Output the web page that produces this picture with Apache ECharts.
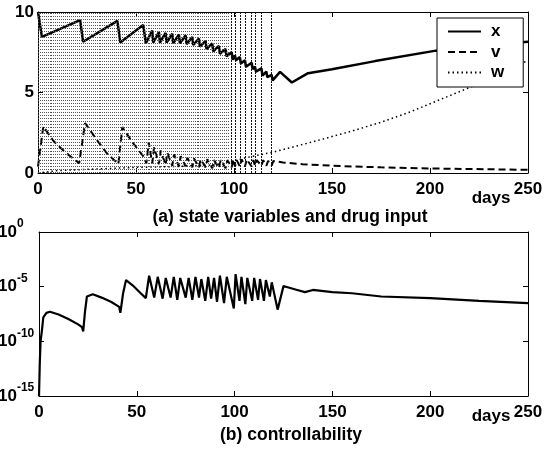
<!DOCTYPE html>
<html><head><meta charset="utf-8">
<script src="https://cdn.jsdelivr.net/npm/echarts@6/dist/echarts.min.js"></script>
<style>html,body{margin:0;padding:0;background:#fff}#c{width:552px;height:450px}</style>
</head><body><div id="c"></div>
<script>
// ---- data ----
const xTicks = [0, 50, 100, 150, 200, 250];
const stateTicks = [0, 5, 10];
const ctrlTickExps = [0, -5, -10, -15];

const xDays = [0,2,21.5,23,40.5,42,53.7,55,58.3,58.8,61.7,62.2,65.1,65.6,68.5,69,71.9,72.4,75.3,75.8,78.7,79.2,82.1,82.6,85.5,86,88.9,89.4,92.3,92.8,95.7,96.2,98.8,99.3,100.5,101,103,103.5,105.6,106.1,109,109.5,110.7,111.2,114,114.5,116.5,117,119.2,119.7,123.5,129.5,137.8,150,172,203,225,250];
const xVals = [10,8.45,9.5,8.15,9.45,8.1,9.2,8.05,8.85,8.1,8.75,8.1,8.7,8.1,8.65,8.05,8.6,8.05,8.55,8.0,8.45,7.95,8.35,7.85,8.2,7.7,8.05,7.55,7.9,7.4,7.7,7.25,7.5,7.05,7.3,7.0,7.2,6.8,7.0,6.6,6.85,6.45,6.6,6.3,6.5,6.05,6.3,5.95,6.1,5.75,6.28,5.62,6.2,6.45,6.95,7.6,7.9,8.15];

const vDays = [0,2.7,7.8,13.8,21,22,24,30,35,41,43,48.5,54,55.3,56.5,58.3,59.2,61.7,62.6,65.1,66,68.5,69.4,71.9,72.8,75.3,76.2,78.7,79.6,82.1,83,85.5,86.4,88.9,89.8,92.3,93.2,95.7,96.6,98.8,99.7,100.5,101.4,103,103.9,105.6,106.5,109,109.9,110.7,111.6,114,114.9,116.5,117.4,119.2,120.1,125,135,150,175,200,250];
const vVals = [0.4,2.9,2.0,1.3,0.6,0.7,3.1,2.05,1.25,0.55,2.85,1.85,1.0,0.6,1.9,0.6,1.6,0.55,1.4,0.5,1.25,0.45,1.15,0.4,1.05,0.4,0.95,0.35,0.9,0.35,0.85,0.35,0.85,0.3,0.8,0.3,0.8,0.3,0.8,0.35,0.85,0.4,0.8,0.4,0.85,0.4,0.85,0.4,0.8,0.45,0.8,0.45,0.8,0.45,0.75,0.45,0.75,0.65,0.55,0.45,0.35,0.28,0.2];

const wDays = [0,10,30,50,70,90,100,106,112,120,140,160,175,190,204,220,235,250];
const wVals = [0,0.15,0.25,0.35,0.4,0.5,0.75,0.95,1.1,1.3,1.93,2.6,3.15,3.8,4.5,5.3,6.1,7.0];
// drug pulses (vertical dotted lines)
const wPulseDays = [0,1,2,3,4,5,6,7,8,9,10,11,12,13,14,15,16,17,18,19,20,21,22,23,24,25,26,27,28,29,30,31,32,33,34,35,36,37,38,39,40,41,42,43,44,45,46,47,48,49,50,51,52,53,54,55,56,57,58,59,60,61,62,63,64,65,66,67,68,69,70,71,72,73,74,75,76,77,78,79,80,81,82,83,84,85,86,87,88,89,90,91,92,93,94,95,96,97];
const wPulseMain = [98.8,100.5,103,105.6,109,110.7,114,119.2];

const ctrlDays = [0,0.4,0.8,1.5,2.2,3.8,5.6,10,15,20,22,22.6,23.5,24.5,27.5,32,37,41,41.6,43,44.5,48,52,54.6,56.3,58.9,60.7,63.2,64.8,67.3,68.9,70.7,72.2,75,76.5,78.4,80,81.8,83,85,86.5,88,89.5,91,92.5,94.6,96,99.6,100.5,102.5,103.5,105.5,106.5,109,110,112,113,115,116,118,119,122,125,128,132,136,140,150,160,175,200,225,250];
const ctrlExp = [-15,-12,-10,-9,-7.8,-7.4,-7.3,-7.55,-7.95,-8.45,-8.7,-9.1,-7.3,-5.9,-5.7,-6.0,-6.4,-6.85,-7.4,-5.6,-4.4,-4.9,-5.6,-6.05,-4.0,-6.0,-4.1,-6.1,-4.2,-6.0,-4.1,-6.2,-4.2,-6.0,-4.2,-6.2,-4.1,-6.0,-4.3,-6.3,-4.1,-6.1,-4.2,-6.4,-4.0,-6.5,-4.1,-7.0,-3.85,-6.3,-4.1,-6.6,-4.2,-6.3,-4.2,-6.2,-4.3,-6.3,-4.4,-5.9,-4.6,-7.1,-4.95,-5.1,-5.3,-5.5,-5.3,-5.5,-5.6,-5.9,-6.05,-6.3,-6.5];

// ---- chart ----
const FONT = '"Liberation Sans", Arial, Helvetica, sans-serif';
const pairs = (d, v) => d.map((t, i) => [t, v[i]]);

function xAx(grid, pos, showLabel) {
  return {
    type: 'value', gridIndex: grid, position: pos,
    min: xTicks[0], max: xTicks[xTicks.length - 1], interval: xTicks[1] - xTicks[0],
    axisLine: { show: true, onZero: false, lineStyle: { color: '#000', width: 1 } },
    axisTick: { show: true, inside: true, length: 5, lineStyle: { color: '#000' } },
    axisLabel: { show: showLabel, color: '#000', fontFamily: FONT, fontWeight: 'bold', fontSize: 17, margin: 8 },
    splitLine: { show: false }
  };
}
function yLin(pos, showLabel) {
  return {
    type: 'value', gridIndex: 0, position: pos,
    min: stateTicks[0], max: stateTicks[stateTicks.length - 1], interval: stateTicks[1] - stateTicks[0],
    axisLine: { show: true, onZero: false, lineStyle: { color: '#000', width: 1 } },
    axisTick: { show: true, inside: true, length: 5, lineStyle: { color: '#000' } },
    axisLabel: { show: showLabel, color: '#000', fontFamily: FONT, fontWeight: 'bold', fontSize: 17, margin: 4 },
    splitLine: { show: false }
  };
}
function yLog(pos, showLabel) {
  return {
    type: 'log', gridIndex: 1, position: pos, logBase: 1e5,
    min: Math.pow(10, ctrlTickExps[ctrlTickExps.length - 1]), max: Math.pow(10, ctrlTickExps[0]),
    axisLine: { show: true, onZero: false, lineStyle: { color: '#000', width: 1 } },
    axisTick: { show: true, inside: true, length: 5, lineStyle: { color: '#000' } },
    minorTick: { show: false },
    axisLabel: {
      show: showLabel, align: 'left', margin: 41,
      formatter: v => '{a|10}{b|' + Math.round(Math.log10(v)) + '}',
      rich: {
        a: { fontFamily: FONT, fontWeight: 'bold', fontSize: 17, color: '#000', lineHeight: 28 },
        b: { fontFamily: FONT, fontWeight: 'bold', fontSize: 12, color: '#000', lineHeight: 12, verticalAlign: 'top' }
      }
    },
    splitLine: { show: false }
  };
}

const pulseLines = wPulseDays.map(t => ({ xAxis: t, lineStyle: { color: '#555', width: 1, type: [1, 2] } }))
  .concat(wPulseMain.map(t => ({ xAxis: t, lineStyle: { color: '#111', width: 1, type: [2, 1] } })));

const option = {
  animation: false,
  backgroundColor: '#fff',
  grid: [
    { left: 38, top: 12, width: 490, height: 161, outerBoundsMode: 'none', containLabel: false },
    { left: 39, top: 232, width: 489, height: 164, outerBoundsMode: 'none', containLabel: false }
  ],
  xAxis: [xAx(0, 'bottom', true), xAx(0, 'top', false), xAx(1, 'bottom', true), xAx(1, 'top', false)],
  yAxis: [yLin('left', true), yLin('right', false), yLog('left', true), yLog('right', false)],
  legend: {
    data: ['x', 'v', 'w'], orient: 'vertical', left: 437, top: 18,
    padding: [5, 19, 6, 10], itemWidth: 33, itemHeight: 14, itemGap: 3.5,
    backgroundColor: '#fff', borderColor: '#000', borderWidth: 1, borderRadius: 0,
    selectedMode: false,
    itemStyle: { color: 'rgba(0,0,0,0)', borderColor: 'rgba(0,0,0,0)', borderWidth: 0, opacity: 0 },
    textStyle: { fontFamily: FONT, fontWeight: 'bold', fontSize: 17, color: '#000', padding: [0, 0, 0, 5] }
  },
  graphic: [
    { type: 'text', x: 290, y: 217, style: { text: '(a) state variables and drug input', fontFamily: FONT, fontWeight: 'bold', fontSize: 17.5, fill: '#000', textAlign: 'center', textVerticalAlign: 'middle' } },
    { type: 'text', x: 291, y: 435, style: { text: '(b) controllability', fontFamily: FONT, fontWeight: 'bold', fontSize: 17.5, fill: '#000', textAlign: 'center', textVerticalAlign: 'middle' } },
    { type: 'text', x: 491, y: 198, style: { text: 'days', fontFamily: FONT, fontWeight: 'bold', fontSize: 17, fill: '#000', textAlign: 'center', textVerticalAlign: 'middle' } },
    { type: 'text', x: 491, y: 416, style: { text: 'days', fontFamily: FONT, fontWeight: 'bold', fontSize: 17, fill: '#000', textAlign: 'center', textVerticalAlign: 'middle' } }
  ],
  series: [
    {
      name: 'w', type: 'line', xAxisIndex: 0, yAxisIndex: 0, symbol: 'none',
      data: pairs(wDays, wVals), itemStyle: { color: '#000' },
      lineStyle: { color: '#000', width: 1.5, type: [1.5, 3] },
      markLine: { silent: true, symbol: ['none', 'none'], label: { show: false }, data: pulseLines }
    },
    {
      name: 'v', type: 'line', xAxisIndex: 0, yAxisIndex: 0, symbol: 'none',
      data: pairs(vDays, vVals), itemStyle: { color: '#000' },
      lineStyle: { color: '#000', width: 2, type: [7, 4] }
    },
    {
      name: 'x', type: 'line', xAxisIndex: 0, yAxisIndex: 0, symbol: 'none',
      data: pairs(xDays, xVals), itemStyle: { color: '#000' },
      lineStyle: { color: '#000', width: 2.5 }
    },
    {
      name: 'controllability', type: 'line', xAxisIndex: 2, yAxisIndex: 2, symbol: 'none',
      data: pairs(ctrlDays, ctrlExp.map(e => Math.pow(10, e))), itemStyle: { color: '#000' },
      lineStyle: { color: '#000', width: 2.2 }
    }
  ]
};
echarts.init(document.getElementById('c'), null, { renderer: 'canvas' }).setOption(option);
</script>
</body></html>
